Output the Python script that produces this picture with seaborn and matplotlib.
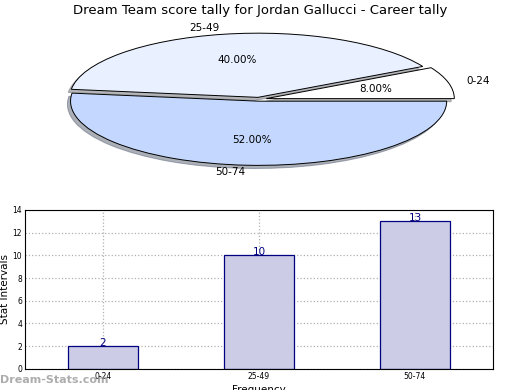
import numpy as np
import pandas as pd
import seaborn as sns
import matplotlib
matplotlib.use("Agg")
import matplotlib.pyplot as plt

# Data
categories = ["0-24", "25-49", "50-74"]
counts = [2, 10, 13]
pie_colors = ["#ffffff", "#e9f0ff", "#c4d8ff"]

sns.set_style("white")
plt.rcParams["font.family"] = ["DejaVu Sans"]
plt.rcParams["text.color"] = "black"
plt.rcParams["axes.labelcolor"] = "black"
plt.rcParams["xtick.color"] = "black"
plt.rcParams["ytick.color"] = "black"

fig = plt.figure(figsize=(5.2, 3.9), dpi=100)

# Pie chart (flattened, exploded, with shadow)
ax_pie = fig.add_axes([0.064, 0.548, 0.868, 0.395])
wedges, texts, autotexts = ax_pie.pie(
    counts, labels=categories, colors=pie_colors, autopct="%.2f%%",
    explode=[0.04, 0.03, 0.03], startangle=0,
    shadow={"ox": -0.012, "oy": -0.035, "shade": 0.55},
    wedgeprops={"edgecolor": "black", "linewidth": 0.7},
    textprops={"fontsize": 7.5, "color": "black"},
)
ax_pie.set_aspect("auto")
ax_pie.set_xlim(-1.2, 1.2)
ax_pie.set_ylim(-1.2, 1.2)
ax_pie.axis("off")
fig.text(0.5, 0.972, "Dream Team score tally for Jordan Gallucci - Career tally",
         ha="center", va="center", fontsize=9.5)

# Bar chart
ax_bar = fig.add_axes([0.048, 0.054, 0.9, 0.408])
df = pd.DataFrame({"interval": categories, "count": counts})
sns.barplot(data=df, x="interval", y="count", ax=ax_bar, width=0.45,
            color="#cccce6", saturation=1, edgecolor="#000080", linewidth=0.9)
ax_bar.set_xlim(-0.5, 2.5)
ax_bar.set_ylim(0, 14)
ax_bar.set_yticks(range(0, 15, 2))
ax_bar.grid(True, linestyle=":", color="#b0b0b0", linewidth=0.9)
ax_bar.set_axisbelow(True)
for s in ax_bar.spines.values():
    s.set_color("black")
    s.set_linewidth(0.8)
ax_bar.tick_params(axis="both", labelsize=5.5, direction="in", length=3, pad=2)
ax_bar.set_xlabel("Frequency", fontsize=7.5, labelpad=3)
ax_bar.set_ylabel("Stat Intervals", fontsize=7.5, labelpad=2)
for i, v in enumerate(counts):
    ax_bar.text(i, v + 0.3, str(v), ha="center", va="center", color="#000080", fontsize=7.5)

fig.text(0.0, 0.025, "Dream-Stats.com", ha="left", va="center",
         fontsize=8, color="#999999", fontweight="bold", alpha=0.8)

fig.savefig("out.png", dpi=100)
